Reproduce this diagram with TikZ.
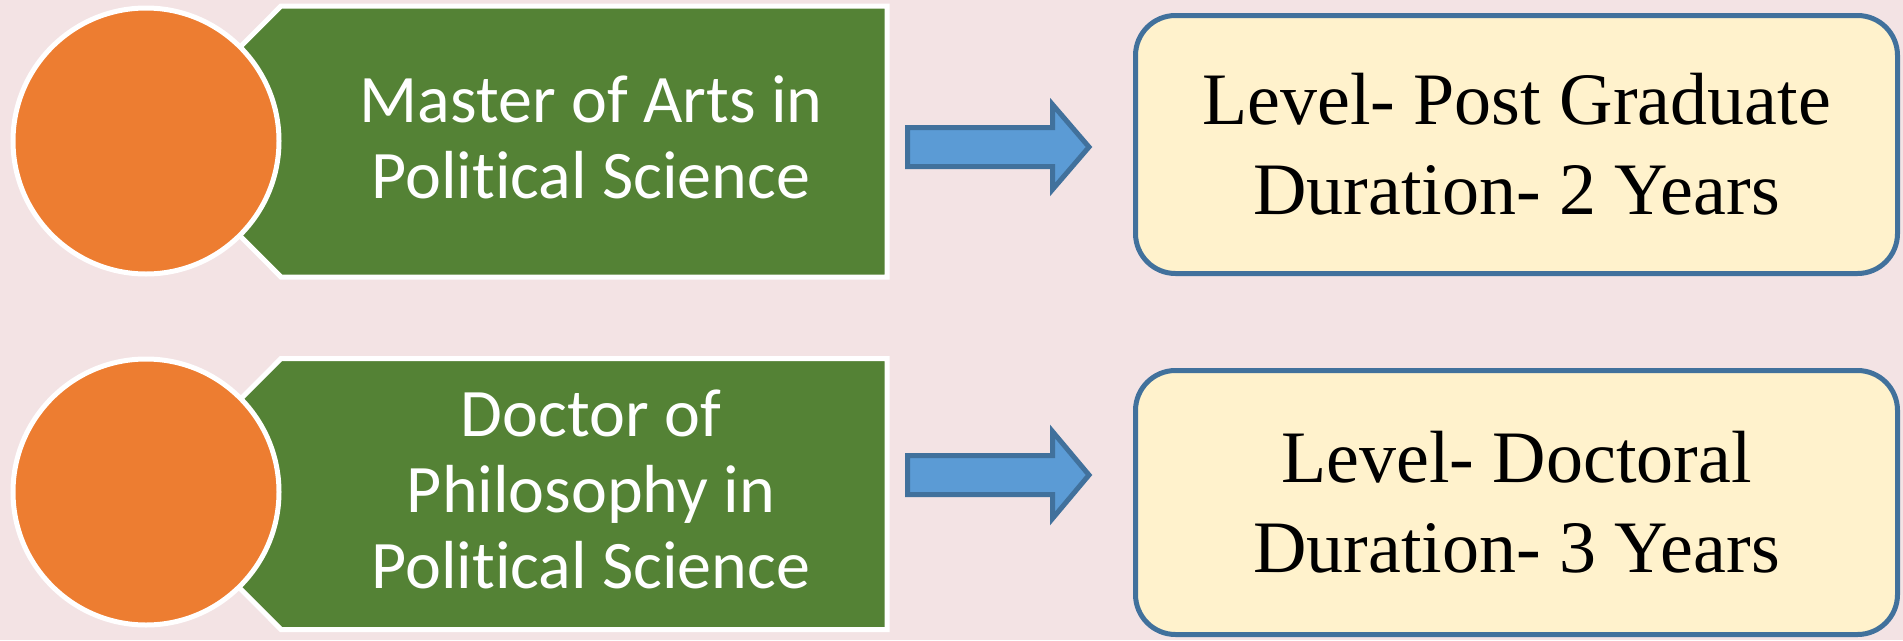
\documentclass[tikz,border=0pt]{standalone}
\usepackage{fontspec}
\setmainfont{Liberation Serif}
\newfontfamily\calibrifont[Ligatures=NoCommon]{Carlito}
\definecolor{bgpink}{HTML}{F3E3E4}
\definecolor{circorange}{HTML}{ED7D31}
\definecolor{boxgreen}{HTML}{548235}
\definecolor{arrowblue}{HTML}{5B9BD5}
\definecolor{arrowedge}{HTML}{41719C}
\definecolor{boxcream}{HTML}{FFF2CC}
\tikzset{
  dot/.style={circle, minimum size=266pt, inner sep=0pt, fill=circorange, draw=white, line width=5pt},
  tagshape/.style={fill=boxgreen, draw=white, line width=5pt, line join=miter},
  tagtext/.style={text=white, font=\calibrifont\fontsize{68}{76}\selectfont, align=center, inner sep=0pt},
  blockarrow/.style={fill=arrowblue, draw=arrowedge, line width=5pt, line join=miter},
  levelbox/.style={rectangle, rounded corners=40pt, fill=boxcream, draw=arrowedge, line width=5pt,
    minimum width=762pt, inner sep=0pt, align=center, font=\fontsize{74}{90}\selectfont, text=black},
}
\begin{document}
\begin{tikzpicture}[x=1pt,y=-1pt]
\fill[bgpink] (0,0) rectangle (1903,640);
\useasboundingbox (0,0) rectangle (1903,640);

% row 1
\draw[tagshape] (887,6) -- (281,6) -- (146,141.5) -- (281,277) -- (887,277) -- cycle;
\node[dot] (c1) at (146,141) {};
\node[tagtext] (t1) at (591,137) {Master of Arts in\\Political Science};
\draw[blockarrow] (907.5,127.5) -- (1052.5,127.5) -- (1052.5,104.5) -- (1089,147)
  -- (1052.5,189.5) -- (1052.5,166.5) -- (907.5,166.5) -- cycle;
\node[levelbox, minimum height=258pt] (l1) at (1516.5,144.5) {Level- Post Graduate\\Duration- 2 Years};

% row 2
\draw[tagshape] (887,358.5) -- (281,358.5) -- (146,494) -- (281,629.5) -- (887,629.5) -- cycle;
\node[dot] (c2) at (146,492) {};
\node[tagtext] (t2) at (591,489) {Doctor of\\Philosophy in\\Political Science};
\draw[blockarrow] (907.5,455.5) -- (1052.5,455.5) -- (1052.5,431.5) -- (1089,475)
  -- (1052.5,518.5) -- (1052.5,494.5) -- (907.5,494.5) -- cycle;
\node[levelbox, minimum height=264pt] (l2) at (1516.5,502.5) {Level- Doctoral\\Duration- 3 Years};
\end{tikzpicture}
\end{document}
